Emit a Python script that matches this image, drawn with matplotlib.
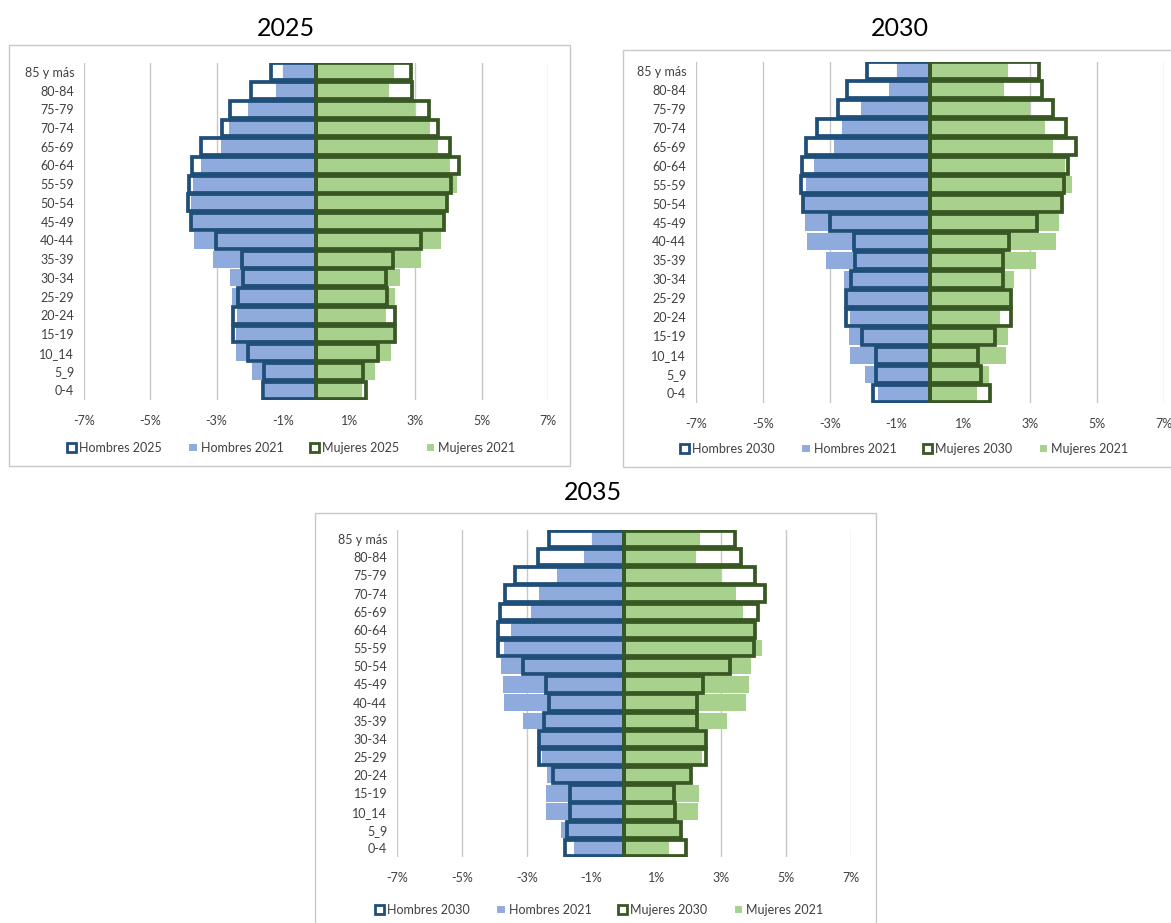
import matplotlib
matplotlib.use("Agg")
import matplotlib.pyplot as plt
from matplotlib.patches import Patch, Rectangle

plt.rcParams['font.family'] = ['Lato', 'DejaVu Sans']

# age groups, bottom to top
ages = ['0-4', '5_9', '10_14', '15-19', '20-24', '25-29', '30-34', '35-39', '40-44',
        '45-49', '50-54', '55-59', '60-64', '65-69', '70-74', '75-79', '80-84', '85 y más']

# % of population (men drawn to the left)
hombres_2021 = [1.55, 1.94, 2.40, 2.41, 2.38, 2.52, 2.58, 3.11, 3.69,
                3.74, 3.78, 3.70, 3.48, 2.87, 2.62, 2.06, 1.22, 1.00]
mujeres_2021 = [1.40, 1.77, 2.27, 2.32, 2.10, 2.39, 2.52, 3.17, 3.76,
                3.85, 3.93, 4.25, 4.04, 3.68, 3.45, 2.99, 2.21, 2.34]

hombres_2025 = [1.61, 1.57, 2.04, 2.49, 2.49, 2.35, 2.20, 2.24, 3.01,
                3.78, 3.87, 3.83, 3.73, 3.47, 2.84, 2.58, 1.96, 1.37]
mujeres_2025 = [1.52, 1.42, 1.86, 2.37, 2.37, 2.14, 2.11, 2.31, 3.16,
                3.85, 3.96, 4.07, 4.32, 4.04, 3.69, 3.41, 2.90, 2.86]

hombres_2030 = [1.71, 1.61, 1.61, 2.03, 2.51, 2.50, 2.35, 2.24, 2.28,
                3.00, 3.79, 3.85, 3.82, 3.70, 3.39, 2.76, 2.47, 1.87]
mujeres_2030 = [1.79, 1.52, 1.44, 1.95, 2.42, 2.42, 2.18, 2.18, 2.37,
                3.21, 3.95, 4.01, 4.13, 4.36, 4.08, 3.69, 3.36, 3.26]

hombres_2035 = [1.83, 1.77, 1.68, 1.68, 2.20, 2.63, 2.61, 2.47, 2.32,
                2.40, 3.11, 3.90, 3.89, 3.83, 3.66, 3.35, 2.65, 2.30]
mujeres_2035 = [1.92, 1.75, 1.58, 1.53, 2.08, 2.52, 2.53, 2.26, 2.26,
                2.43, 3.27, 4.00, 4.05, 4.14, 4.34, 4.04, 3.60, 3.42]

xticks = [-7, -5, -3, -1, 1, 3, 5, 7]
xlabels = ['-7%', '-5%', '-3%', '-1%', '1%', '3%', '5%', '7%']

azul_claro = '#8FAADC'
azul_osc = '#1F4E79'
verde_claro = '#A9D18E'
verde_osc = '#385723'
texto = '#404040'


def piramide(ax, h_proj, m_proj):
    y = range(len(ages))
    ax.barh(y, [-v for v in hombres_2021], height=0.9, color=azul_claro, zorder=2)
    ax.barh(y, mujeres_2021, height=0.9, color=verde_claro, zorder=2)
    ax.barh(y, [-v for v in h_proj], height=0.9, fill=False,
            edgecolor=azul_osc, linewidth=2.7, zorder=3)
    ax.barh(y, m_proj, height=0.9, fill=False,
            edgecolor=verde_osc, linewidth=2.7, zorder=3)
    ax.set_xlim(-7, 7)
    ax.set_ylim(-0.5, len(ages) - 0.5)
    ax.set_xticks(xticks)
    ax.set_xticklabels(xlabels)
    ax.set_yticks(list(y))
    ax.set_yticklabels(ages)
    ax.tick_params(length=0, labelsize=9, labelcolor=texto)
    ax.tick_params(axis='x', pad=11)
    ax.tick_params(axis='y', pad=7)
    ax.grid(axis='x', color='#C8C8C8', linewidth=1, zorder=0)
    ax.set_axisbelow(True)
    for s in ax.spines.values():
        s.set_visible(False)


def leyenda(fig, x, y, anio_h, anio_m):
    handles = [
        Patch(facecolor='white', edgecolor=azul_osc, linewidth=2),
        Patch(facecolor=azul_claro, edgecolor='white', linewidth=1.5),
        Patch(facecolor='white', edgecolor=verde_osc, linewidth=2),
        Patch(facecolor=verde_claro, edgecolor='white', linewidth=1.5),
    ]
    labels = ['Hombres ' + anio_h, 'Hombres 2021', 'Mujeres ' + anio_m, 'Mujeres 2021']
    fig.legend(handles, labels, loc='center', bbox_to_anchor=(x, y), ncol=4,
               frameon=False, fontsize=9, labelcolor=texto, handlelength=0.75,
               handleheight=0.75, handletextpad=0.25, columnspacing=2.1)


fig = plt.figure(figsize=(11.71, 9.23), dpi=100)
W, H = 1171, 923

# light frames around each chart
for x0, y0, x1, y1 in [(9, 45, 570, 466), (623, 50, 1180, 467), (315, 513, 876, 930)]:
    fig.add_artist(Rectangle((x0 / W, 1 - y1 / H), (x1 - x0) / W, (y1 - y0) / H,
                             transform=fig.transFigure, fill=False,
                             edgecolor='#C8C8C8', linewidth=1))

ax1 = fig.add_axes([84 / W, 1 - 399.5 / H, 464 / W, 337 / H])
piramide(ax1, hombres_2025, mujeres_2025)
ax2 = fig.add_axes([696 / W, 1 - 402.5 / H, 468 / W, 341 / H])
piramide(ax2, hombres_2030, mujeres_2030)
ax3 = fig.add_axes([397 / W, 1 - 857 / H, 454 / W, 327 / H])
piramide(ax3, hombres_2035, mujeres_2035)

fig.text(286 / W, 1 - 28 / H, '2025', ha='center', va='center', fontsize=18)
fig.text(900 / W, 1 - 28 / H, '2030', ha='center', va='center', fontsize=18)
fig.text(593 / W, 1 - 493 / H, '2035', ha='center', va='center', fontsize=18)

leyenda(fig, 291 / W, 1 - 448 / H, '2025', '2025')
leyenda(fig, 904 / W, 1 - 449 / H, '2030', '2030')
leyenda(fig, 599 / W, 1 - 910 / H, '2030', '2030')

fig.savefig('out.png', dpi=100, facecolor='white')
